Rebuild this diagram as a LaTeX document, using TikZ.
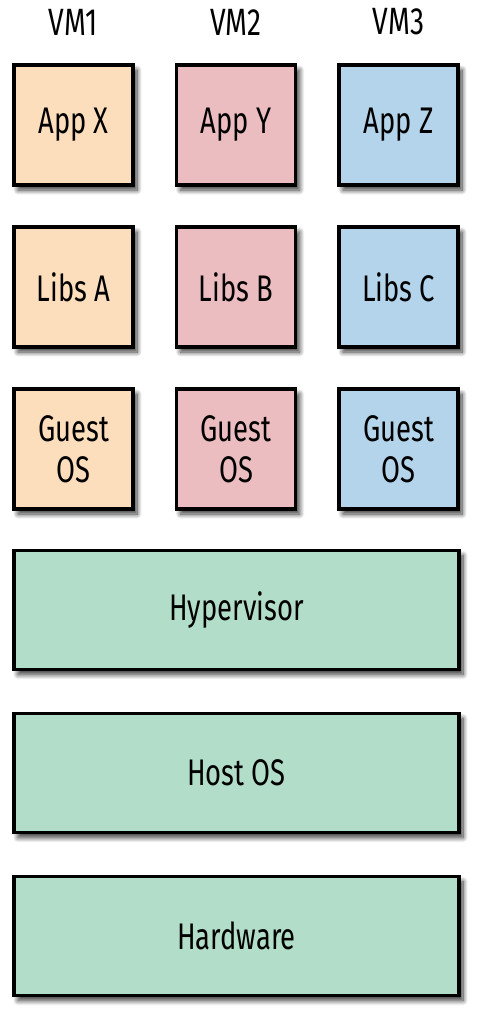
\documentclass[tikz,border=0pt]{standalone}
\usepackage{fontspec}
\setmainfont{Fira Sans}[FakeStretch=0.74]
\usetikzlibrary{shadows.blur}
\definecolor{cpeach}{HTML}{FCDEBC}
\definecolor{cpink}{HTML}{EBBDC0}
\definecolor{cblue}{HTML}{B3D4EA}
\definecolor{cgreen}{HTML}{B2DDC8}
\tikzset{
  layer/.style={draw=black, line width=3.5pt, inner sep=0pt,
    blur shadow={shadow xshift=4pt, shadow yshift=-5pt, shadow blur steps=10, shadow blur radius=5pt, shadow opacity=80},
    font=\fontsize{37}{41}\selectfont, align=center},
  small/.style={layer, minimum width=119pt, minimum height=120pt},
  big/.style={layer, fill=cgreen, minimum width=445pt, minimum height=119pt},
  vmlabel/.style={font=\fontsize{38}{40}\selectfont, inner sep=0pt}
}
\begin{document}
\begin{tikzpicture}[x=1pt, y=-1pt]
\useasboundingbox (0,0) rectangle (487,1024);
\node[vmlabel] (vm1) at (73.5,22) {VM1};
\node[vmlabel] (vm2) at (236,22) {VM2};
\node[vmlabel] (vm3) at (398.5,22) {VM3};
\node[small, fill=cpeach] (appx) at (73.5,125) {App X};
\node[small, fill=cpink] (appy) at (236,125) {App Y};
\node[small, fill=cblue] (appz) at (398.5,125) {App Z};
\node[small, fill=cpeach] (libsa) at (73.5,287) {Libs A};
\node[small, fill=cpink] (libsb) at (236,287) {Libs B};
\node[small, fill=cblue] (libsc) at (398.5,287) {Libs C};
\node[small, fill=cpeach] (os1) at (73.5,449) {Guest\\OS};
\node[small, fill=cpink] (os2) at (236,449) {Guest\\OS};
\node[small, fill=cblue] (os3) at (398.5,449) {Guest\\OS};
\node[big] (hyp) at (236.5,610) {Hypervisor};
\node[big] (host) at (236.5,773) {Host OS};
\node[big] (hw) at (236.5,936) {Hardware};
\end{tikzpicture}
\end{document}
